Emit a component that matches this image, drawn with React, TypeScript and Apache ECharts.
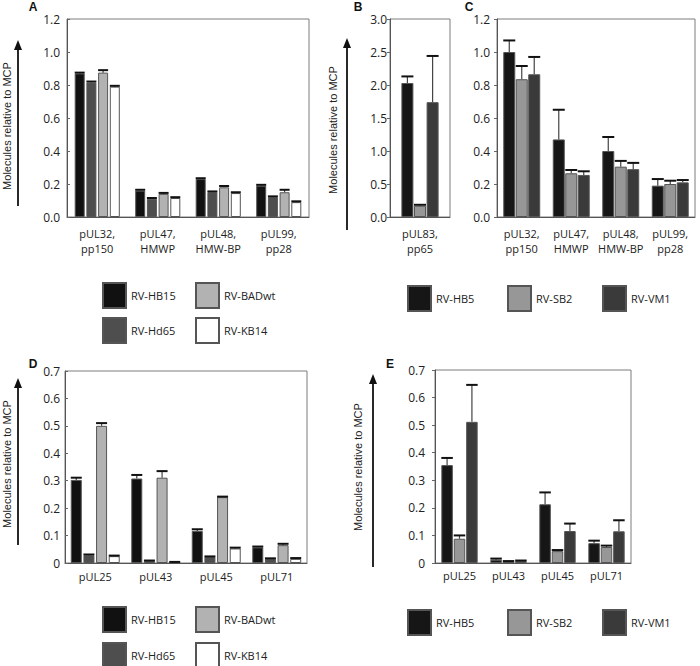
import React, { useEffect, useRef } from "react";
import * as echarts from "echarts";

// ---------- categories ----------
const catsTop = ["pUL32,\npp150", "pUL47,\nHMWP", "pUL48,\nHMW-BP", "pUL99,\npp28"];
const catsB = ["pUL83,\npp65"];
const catsBottom = ["pUL25", "pUL43", "pUL45", "pUL71"];

// ---------- strains ----------
const strainsA = ["RV-HB15", "RV-Hd65", "RV-BADwt", "RV-KB14"];
const colorsA = ["#111111", "#4e4e4e", "#b2b2b2", "#ffffff"];
const strainsC = ["RV-HB5", "RV-SB2", "RV-VM1"];
const colorsC = ["#161616", "#979797", "#3a3a3a"];

// ---------- panel A (mean, error) ----------
const aHB15 = [0.87, 0.16, 0.23, 0.19];
const aHB15Err = [0.005, 0.005, 0.005, 0.005];
const aHd65 = [0.815, 0.11, 0.15, 0.12];
const aHd65Err = [0.006, 0.005, 0.005, 0.005];
const aBADwt = [0.875, 0.14, 0.18, 0.15];
const aBADwtErr = [0.015, 0.006, 0.008, 0.015];
const aKB14 = [0.79, 0.115, 0.145, 0.09];
const aKB14Err = [0.005, 0.005, 0.005, 0.005];

// ---------- panel B ----------
const bHB5 = [2.03];
const bHB5Err = [0.1];
const bSB2 = [0.17];
const bSB2Err = [0.015];
const bVM1 = [1.74];
const bVM1Err = [0.7];

// ---------- panel C ----------
const cHB5 = [1.0, 0.47, 0.4, 0.19];
const cHB5Err = [0.07, 0.18, 0.085, 0.04];
const cSB2 = [0.835, 0.265, 0.305, 0.2];
const cSB2Err = [0.08, 0.02, 0.035, 0.02];
const cVM1 = [0.865, 0.255, 0.29, 0.21];
const cVM1Err = [0.105, 0.022, 0.038, 0.014];

// ---------- panel D ----------
const dHB15 = [0.303, 0.308, 0.117, 0.057];
const dHB15Err = [0.008, 0.013, 0.006, 0.003];
const dHd65 = [0.028, 0.007, 0.022, 0.015];
const dHd65Err = [0.003, 0.002, 0.002, 0.002];
const dBADwt = [0.5, 0.311, 0.24, 0.065];
const dBADwtErr = [0.01, 0.024, 0.002, 0.005];
const dKB14 = [0.025, 0.003, 0.053, 0.015];
const dKB14Err = [0.002, 0.001, 0.003, 0.003];

// ---------- panel E ----------
const eHB5 = [0.355, 0.012, 0.213, 0.072];
const eHB5Err = [0.026, 0.004, 0.043, 0.009];
const eSB2 = [0.088, 0.005, 0.043, 0.058];
const eSB2Err = [0.012, 0.002, 0.004, 0.005];
const eVM1 = [0.512, 0.007, 0.116, 0.115];
const eVM1Err = [0.134, 0.002, 0.027, 0.04];

const yTitle = "Molecules relative to MCP";

const fmt1 = (v: number) => v.toFixed(1);
const fmtZero = (v: number) => (Math.abs(v) < 1e-9 ? "0" : v.toFixed(1));

const panels = [
  {
    letter: "A", grid: { left: 67, top: 19, width: 242, height: 198 }, cats: catsTop,
    max: 1.2, interval: 0.2, fmt: fmt1, names: strainsA, colors: colorsA,
    values: [aHB15, aHd65, aBADwt, aKB14], errs: [aHB15Err, aHd65Err, aBADwtErr, aKB14Err],
    barWidth: 10, gap: 0.17, tickInside: true, labelMargin: 7, catMargin: 9,
  },
  {
    letter: "B", grid: { left: 390, top: 19, width: 60, height: 198 }, cats: catsB,
    max: 3.0, interval: 0.5, fmt: fmt1, names: strainsC, colors: colorsC,
    values: [bHB5, bSB2, bVM1], errs: [bHB5Err, bSB2Err, bVM1Err],
    barWidth: 12, gap: 0.05, tickInside: false, labelMargin: 3, catMargin: 9,
  },
  {
    letter: "C", grid: { left: 497, top: 19, width: 198, height: 198 }, cats: catsTop,
    max: 1.2, interval: 0.2, fmt: fmt1, names: strainsC, colors: colorsC,
    values: [cHB5, cSB2, cVM1], errs: [cHB5Err, cSB2Err, cVM1Err],
    barWidth: 12, gap: 0.04, tickInside: false, labelMargin: 7, catMargin: 9,
  },
  {
    letter: "D", grid: { left: 65, top: 371, width: 242, height: 192 }, cats: catsBottom,
    max: 0.7, interval: 0.1, fmt: fmtZero, names: strainsA, colors: colorsA,
    values: [dHB15, dHd65, dBADwt, dKB14], errs: [dHB15Err, dHd65Err, dBADwtErr, dKB14Err],
    barWidth: 11, gap: 0.15, tickInside: true, labelMargin: 5, catMargin: 6,
  },
  {
    letter: "E", grid: { left: 435, top: 370, width: 196, height: 193 }, cats: catsBottom,
    max: 0.7, interval: 0.1, fmt: fmtZero, names: strainsC, colors: colorsC,
    values: [eHB5, eSB2, eVM1], errs: [eHB5Err, eSB2Err, eVM1Err],
    barWidth: 11.5, gap: 0.08, tickInside: false, labelMargin: 10, catMargin: 5,
  },
];

// decorations: arrow + rotated title + panel letter
const decor = [
  { letter: "A", lx: 33, ly: 7, ax: 18, tip: 40, bottom: 206, tx: 7, ty: 126 },
  { letter: "B", lx: 358, ly: 7, ax: 347, tip: 38, bottom: 230, tx: 333, ty: 130 },
  { letter: "C", lx: 469, ly: 7, ax: 0, tip: 0, bottom: 0, tx: 0, ty: 0 },
  { letter: "D", lx: 33, ly: 364, ax: 18, tip: 378, bottom: 545, tx: 7, ty: 464 },
  { letter: "E", lx: 390, ly: 364, ax: 373, tip: 374, bottom: 567, tx: 358, ty: 467 },
];

// legends: [name, left, top]
const legendItems: [string, number, number][] = [
  ["RV-HB15", 102, 282], ["RV-BADwt", 195, 282], ["RV-Hd65", 102, 317], ["RV-KB14", 195, 317],
  ["RV-HB5", 407, 285], ["RV-SB2", 507, 285], ["RV-VM1", 602, 285],
  ["RV-HB15", 102, 606], ["RV-BADwt", 195, 606], ["RV-Hd65", 102, 642], ["RV-KB14", 195, 642],
  ["RV-HB5", 407, 609], ["RV-SB2", 507, 609], ["RV-VM1", 602, 609],
];

const FONT = "'Open Sans', 'DejaVu Sans', sans-serif";

function buildOption() {
  const grid: any[] = [];
  const xAxis: any[] = [];
  const yAxis: any[] = [];
  const series: any[] = [];
  const graphic: any[] = [];

  panels.forEach((p, gi) => {
    grid.push({ ...p.grid, show: true, borderColor: "#7c7c7c", borderWidth: 1, backgroundColor: "transparent" });
    xAxis.push({
      type: "category", gridIndex: gi, data: p.cats,
      axisLine: { show: true, lineStyle: { color: "#555", width: 1 } },
      axisTick: { show: false },
      axisLabel: { interval: 0, fontFamily: FONT, fontSize: 11, color: "#222", lineHeight: 15, margin: p.catMargin },
      splitLine: { show: false },
    });
    yAxis.push({
      type: "value", gridIndex: gi, min: 0, max: p.max, interval: p.interval,
      axisLine: { show: true, lineStyle: { color: "#555", width: 1 } },
      axisTick: { show: true, inside: p.tickInside, length: 3, lineStyle: { color: "#666" } },
      axisLabel: { fontFamily: FONT, fontSize: 12, color: "#222", margin: p.labelMargin, formatter: p.fmt },
      splitLine: { show: false },
    });
    const n = p.names.length;
    const step = p.barWidth * (1 + p.gap);
    p.names.forEach((name, si) => {
      series.push({
        type: "bar", name, xAxisIndex: gi, yAxisIndex: gi,
        data: p.values[si], barWidth: p.barWidth, barGap: `${Math.round(p.gap * 100)}%`,
        itemStyle: { color: p.colors[si], borderColor: "#555", borderWidth: 1 },
        z: 2,
      });
    });
    p.names.forEach((name, si) => {
      const offset = (si - (n - 1) / 2) * step;
      const cap = p.barWidth;
      series.push({
        type: "custom", name: `${name} error`, xAxisIndex: gi, yAxisIndex: gi, z: 5,
        data: p.values[si].map((v, ci) => [ci, v, p.errs[si][ci]]),
        encode: { x: 0, y: 1 },
        renderItem: (params: any, api: any) => {
          const ci = api.value(0);
          const v = api.value(1);
          const e = api.value(2);
          const p0 = api.coord([ci, v]);
          const p1 = api.coord([ci, v + e]);
          const cx = p0[0] + offset;
          return {
            type: "group",
            children: [
              { type: "line", shape: { x1: cx, y1: p0[1], x2: cx, y2: p1[1] }, style: { stroke: "#444", lineWidth: 1.2 } },
              { type: "line", shape: { x1: cx - cap / 2, y1: p1[1], x2: cx + cap / 2, y2: p1[1] }, style: { stroke: "#111", lineWidth: 2 } },
            ],
          };
        },
      });
    });
  });

  decor.forEach((d) => {
    graphic.push({
      type: "text", x: d.lx, y: d.ly,
      style: { text: d.letter, font: "bold 12px 'Liberation Sans', Arial, sans-serif", fill: "#111", align: "center", verticalAlign: "middle", textAlign: "center", textVerticalAlign: "middle" },
    });
    if (d.ax) {
      graphic.push({ type: "line", shape: { x1: d.ax, y1: d.bottom, x2: d.ax, y2: d.tip + 8 }, style: { stroke: "#111", lineWidth: 1.8 } });
      graphic.push({ type: "polygon", shape: { points: [[d.ax, d.tip], [d.ax - 4, d.tip + 10], [d.ax + 4, d.tip + 10]] }, style: { fill: "#111" } });
      graphic.push({
        type: "text", x: d.tx, y: d.ty, rotation: Math.PI / 2,
        style: { text: yTitle, font: "11px 'Liberation Sans', Arial, sans-serif", fill: "#222", align: "center", verticalAlign: "middle", textAlign: "center", textVerticalAlign: "middle" },
      });
    }
  });

  const legend = legendItems.map(([name, left, top]) => ({
    data: [name], left, top, padding: 0, itemWidth: 23, itemHeight: 25, icon: "rect",
    selectedMode: false,
    textStyle: { fontFamily: FONT, fontSize: 11, color: "#222" },
  }));

  return { animation: false, backgroundColor: "#fff", grid, xAxis, yAxis, series, graphic, legend };
}

export default function App() {
  const ref = useRef<HTMLDivElement>(null);
  useEffect(() => {
    if (!ref.current) return;
    const chart = echarts.init(ref.current, undefined, { renderer: "svg" });
    chart.setOption(buildOption() as any);
    return () => chart.dispose();
  }, []);
  return <div ref={ref} style={{ position: "fixed", left: 0, top: 0, width: 700, height: 666, background: "#fff" }} />;
}
